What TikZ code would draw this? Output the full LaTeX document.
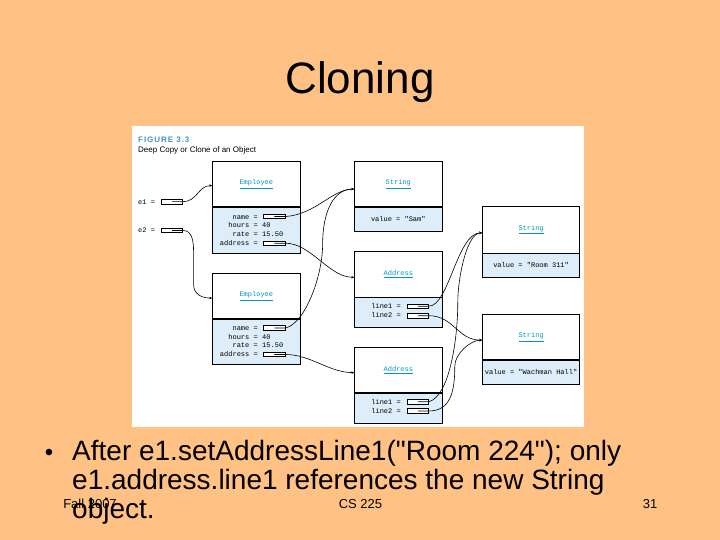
\documentclass[tikz,border=0pt]{standalone}
\usepackage{fontspec}
\setmainfont{Liberation Sans}[Ligatures=TeXOff]
\newfontfamily\figmono{Liberation Mono}
\newfontfamily\figcap[LetterSpace=12]{Liberation Sans}
\usepackage{tikz}
\usetikzlibrary{arrows.meta, positioning, calc}

\definecolor{slidebg}{RGB}{255,194,132}
\definecolor{figblue}{RGB}{221,238,250}
\definecolor{figteal}{RGB}{0,150,190}
\definecolor{capteal}{RGB}{70,150,200}

\begin{document}
\begin{tikzpicture}[
    x=1pt, y=-1pt,
    objhead/.style={
        rectangle, draw=black, line width=0.6pt, fill=white,
        anchor=north west, inner sep=0pt, text=figteal,
        font=\figmono\fontsize{7}{8}\selectfont
    },
    objbody/.style={
        rectangle, draw=black, line width=0.6pt, fill=figblue,
        anchor=north, inner sep=0pt,
        font=\figmono\fontsize{7}{8}\selectfont
    },
    refbox/.style={
        rectangle, draw=black, line width=0.6pt, fill=white,
        minimum width=21pt, minimum height=4.5pt, inner sep=0pt
    },
    fld/.style={anchor=base east, inner sep=0pt, font=\figmono\fontsize{7}{8}\selectfont},
    val/.style={anchor=base west, inner sep=0pt, font=\figmono\fontsize{7}{8}\selectfont},
    ptr/.style={-{Stealth[length=3pt, width=2.6pt]}, line width=0.6pt}
]
\useasboundingbox (0,0) rectangle (720,540);
\fill[slidebg] (0,0) rectangle (720,540);

% Slide title
\node[anchor=base, font=\fontsize{44}{48}\selectfont] (title) at (360,94) {Cloning};

% Figure panel and caption
\node[fill=white, anchor=north west, minimum width=452pt, minimum height=301pt, inner sep=0pt] (panel) at (132,126) {};
\node[anchor=base west, inner sep=0pt, text=capteal, font=\figcap\bfseries\fontsize{8}{9}\selectfont] (figno) at (138,142.7) {FIGURE 3.3};
\node[anchor=base west, inner sep=0pt, font=\fontsize{8}{9}\selectfont] (figtitle) at (138,153) {Deep Copy or Clone of an Object};

% Variables
\node[val] (e1lbl) at (138,204.3) {e1 =};
\node[val] (e2lbl) at (138,232.8) {e2 =};
\node[refbox] (e1ref) at (172.2,201.7) {};
\node[refbox] (e2ref) at (172.2,230.5) {};

% Employee objects
\node[objhead, minimum width=87.4pt, minimum height=45pt] (emp1) at (212.3,161.3) {\underline{Employee}};
\node[objbody, minimum width=87.4pt, minimum height=46pt, below=0pt of emp1] (emp1b) {};
\node[objhead, minimum width=87.4pt, minimum height=45pt] (emp2) at (212.3,273.3) {\underline{Employee}};
\node[objbody, minimum width=87.4pt, minimum height=45pt, below=0pt of emp2] (emp2b) {};

\node[fld] (e1f1) at (258,219) {name =};
\node[fld] (e1f2) at (258,227.6) {hours =};
\node[val] (e1v2) at (262,227.6) {40};
\node[fld] (e1f3) at (258,236.3) {rate =};
\node[val] (e1v3) at (262,236.3) {15.50};
\node[fld] (e1f4) at (258,245.3) {address =};
\node[refbox, minimum width=22pt] (e1name) at (274.3,216.5) {};
\node[refbox, minimum width=22pt] (e1addr) at (274.3,243.2) {};

\node[fld] (e2f1) at (258,330.3) {name =};
\node[fld] (e2f2) at (258,339) {hours =};
\node[val] (e2v2) at (262,339) {40};
\node[fld] (e2f3) at (258,347.4) {rate =};
\node[val] (e2v3) at (262,347.4) {15.50};
\node[fld] (e2f4) at (258,356.6) {address =};
\node[refbox, minimum width=22pt] (e2name) at (274.3,328) {};
\node[refbox, minimum width=22pt] (e2addr) at (274.3,354.5) {};

% String "Sam"
\node[objhead, minimum width=87.4pt, minimum height=45pt] (str1) at (354.3,161.3) {\underline{String}};
\node[objbody, minimum width=87.4pt, minimum height=24pt, below=0pt of str1] (str1b) {value = "Sam"};

% Address objects
\node[objhead, minimum width=87.4pt, minimum height=45.4pt] (adr1) at (354.3,251.3) {\underline{Address}};
\node[objbody, minimum width=87.4pt, minimum height=29.6pt, below=0pt of adr1] (adr1b) {};
\node[objhead, minimum width=87.4pt, minimum height=45pt] (adr2) at (354.3,347.3) {\underline{Address}};
\node[objbody, minimum width=87.4pt, minimum height=30pt, below=0pt of adr2] (adr2b) {};

\node[fld] (a1f1) at (401,308.3) {line1 =};
\node[fld] (a1f2) at (401,317.8) {line2 =};
\node[refbox] (a1l1) at (418,306.2) {};
\node[refbox] (a1l2) at (418,315.7) {};
\node[fld] (a2f1) at (401,404) {line1 =};
\node[fld] (a2f2) at (401,413.2) {line2 =};
\node[refbox] (a2l1) at (418,401.7) {};
\node[refbox] (a2l2) at (418,411) {};

% Strings of the addresses
\node[objhead, minimum width=97pt, minimum height=46.4pt] (str2) at (482.3,206.3) {\underline{String}};
\node[objbody, minimum width=97pt, minimum height=23.3pt, below=0pt of str2] (str2b) {value = "Room 311"};
\node[objhead, minimum width=97pt, minimum height=45pt] (str3) at (482.3,314.3) {\underline{String}};
\node[objbody, minimum width=97pt, minimum height=24pt, below=0pt of str3] (str3b) {value = "Wachman Hall"};

% References
\draw[ptr] (e1ref.center) -- (e1ref.east) .. controls +(14,0) and +(-14,0) .. ([yshift=-1.5pt]emp1.west);
\draw[ptr] (e2ref.center) -- (e2ref.east) .. controls +(9,0) and +(0,-12) .. ++(10.6,22) -- ++(0,32)
    .. controls +(0,10) and +(-10,0) .. ([yshift=-2pt]emp2.west);
\draw[ptr] (e1name.center) -- (e1name.east) .. controls +(30,-2) and +(-22,0) .. ([yshift=-5pt]str1.west);
\draw[ptr] (e2name.center) -- (e2name.east) .. controls +(20,-5) and +(0,30) .. ++(37,-83)
    .. controls +(0,-35) and +(-20,0) .. ([yshift=-5pt]str1.west);
\draw[ptr] (e1addr.center) -- (e1addr.east) .. controls +(25,0) and +(-25,0) .. ([yshift=-3pt]adr1.west);
\draw[ptr] (e2addr.center) -- (e2addr.east) .. controls +(25,0) and +(-25,0) .. ([yshift=-2.5pt]adr2.west);
\draw[ptr] (a1l1.center) -- (a1l1.east) .. controls +(20,0) and +(-25,0) .. ([yshift=-3pt]str2.west);
\draw[ptr] (a1l2.center) -- (a1l2.east) .. controls +(25,0) and +(-25,0) .. ([yshift=-3pt]str3.west);
\draw[ptr] (a2l1.center) -- (a2l1.east) .. controls +(20,-5) and +(0,40) .. ++(29,-100)
    .. controls +(0,-25) and +(-15,0) .. ([yshift=-3pt]str2.west);
\draw[ptr] (a2l2.center) -- (a2l2.east) .. controls +(22,0) and +(0,25) .. ++(26,-45)
    .. controls +(0,-12) and +(-12,0) .. ([yshift=-3pt]str3.west);

% Bullet text
\node[anchor=base, font=\fontsize{24}{24}\selectfont] (dot) at (49,460) {\textbullet};
\node[anchor=base west, align=left, inner sep=0pt, font=\fontsize{28}{29}\selectfont] (bullet) at (72,518)
    {After e1.setAddressLine1("Room 224"); only\\e1.address.line1 references the new String\\object.};

% Footer
\node[anchor=base, font=\fontsize{13}{13}\selectfont] (date) at (90,508) {Fall 2007};
\node[anchor=base, font=\fontsize{13}{13}\selectfont] (course) at (360.5,508) {CS 225};
\node[anchor=base, font=\fontsize{13}{13}\selectfont] (page) at (650,508) {31};

\end{tikzpicture}
\end{document}
